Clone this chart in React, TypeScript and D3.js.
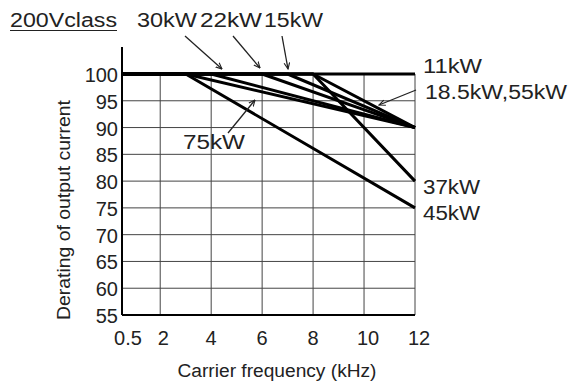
import React from "react";
import * as d3 from "d3";

// ---- data ----
const xTicks = [0.5, 2, 4, 6, 8, 10, 12];
const yTicks = [55, 60, 65, 70, 75, 80, 85, 90, 95, 100];
const xGrid = [2, 4, 6, 8, 10, 12];
const yGrid = [60, 65, 70, 75, 80, 85, 90, 95];

const s11kW: [number, number][] = [[0.5, 100], [12, 100]];
const s15kW: [number, number][] = [[0.5, 100], [7, 100], [12, 90]];
const s18_55kW: [number, number][] = [[0.5, 100], [8, 100], [12, 90]];
const s22kW: [number, number][] = [[0.5, 100], [6, 100], [12, 90]];
const s30kW: [number, number][] = [[0.5, 100], [4, 100], [12, 90]];
const s37kW: [number, number][] = [[0.5, 100], [8, 100], [12, 80]];
const s45kW: [number, number][] = [[0.5, 100], [3, 100], [12, 75]];
const s75kW: [number, number][] = [[0.5, 100], [3, 100], [12, 90]];
const seriesList = [s11kW, s15kW, s18_55kW, s22kW, s30kW, s37kW, s45kW, s75kW];

const FONT = "'Liberation Sans', Arial, sans-serif";

export default function App() {
  const W = 571, H = 386;
  const x = d3.scaleLinear().domain([0.5, 12]).range([122, 415]);
  const y = d3.scaleLinear().domain([55, 100]).range([315, 74]);
  const line = d3.line<[number, number]>().x(d => x(d[0])).y(d => y(d[1]));

  const arrows = [
    { x1: 185, y1: 36, x2: 222, y2: 69 },
    { x1: 233, y1: 36, x2: 260, y2: 68 },
    { x1: 282, y1: 36, x2: 288, y2: 69 },
    { x1: 416, y1: 90, x2: 379, y2: 105 },
    { x1: 228, y1: 133, x2: 255, y2: 100 },
  ];

  const labels = [
    { t: "30kW", x: 137, y: 27, w: 60 },
    { t: "22kW", x: 200, y: 27, w: 62 },
    { t: "15kW", x: 264, y: 27, w: 59 },
    { t: "11kW", x: 423, y: 73, w: 59 },
    { t: "18.5kW,55kW", x: 425, y: 99, w: 142 },
    { t: "37kW", x: 423, y: 194, w: 57 },
    { t: "45kW", x: 423, y: 220, w: 57 },
    { t: "75kW", x: 183, y: 149, w: 62 },
  ];

  return (
    <svg width={W} height={H} style={{ position: "absolute", left: 0, top: 0, background: "#fff" }}>
      <defs>
        <marker id="ah" viewBox="0 0 10 10" refX="9" refY="5" markerWidth="7" markerHeight="7" orient="auto" markerUnits="userSpaceOnUse">
          <path d="M0,1 L9,5 L0,9" fill="none" stroke="#222" strokeWidth="1.6" />
        </marker>
      </defs>
      {/* grid */}
      {xGrid.map(v => (
        <line key={"gx" + v} x1={x(v)} x2={x(v)} y1={y(100)} y2={y(55)} stroke="#444" strokeWidth={1} />
      ))}
      {yGrid.map(v => (
        <line key={"gy" + v} x1={x(0.5)} x2={x(12)} y1={y(v)} y2={y(v)} stroke="#444" strokeWidth={1} />
      ))}
      {/* axes */}
      <line x1={x(0.5)} x2={x(0.5)} y1={47} y2={y(55)} stroke="#000" strokeWidth={2} />
      <line x1={x(0.5)} x2={x(12)} y1={y(55)} y2={y(55)} stroke="#000" strokeWidth={2} />
      {/* series */}
      {seriesList.map((s, i) => (
        <path key={"s" + i} d={line(s) || ""} fill="none" stroke="#000" strokeWidth={3} strokeLinejoin="round" />
      ))}
      {/* tick labels */}
      {yTicks.map(v => (
        <text key={"yt" + v} x={118} y={y(v) + 8} textAnchor="end" fontFamily={FONT} fontSize={20} fill="#222">{v}</text>
      ))}
      {xTicks.map(v => (
        <text key={"xt" + v} x={x(v) + (v === 0.5 ? 6 : v >= 10 ? 4 : v === 2 ? 3 : 0)} y={345} textAnchor="middle" fontFamily={FONT} fontSize={20} fill="#222">{v}</text>
      ))}
      {/* axis titles */}
      <text x={277} y={377} textAnchor="middle" fontFamily={FONT} fontSize={18} fill="#222" textLength={199} lengthAdjust="spacingAndGlyphs">Carrier frequency (kHz)</text>
      <text transform={`translate(70,210) rotate(-90)`} textAnchor="middle" fontFamily={FONT} fontSize={18} fill="#222" textLength={220} lengthAdjust="spacingAndGlyphs">Derating of output current</text>
      {/* title */}
      <text x={10} y={27} fontFamily={FONT} fontSize={20} fill="#222" textLength={107} lengthAdjust="spacingAndGlyphs">200Vclass</text>
      <line x1={10} x2={117} y1={30.5} y2={30.5} stroke="#222" strokeWidth={1.2} />
      {/* annotations */}
      {labels.map(l => (
        <text key={l.t} x={l.x} y={l.y} fontFamily={FONT} fontSize={20} fill="#222" textLength={l.w} lengthAdjust="spacingAndGlyphs">{l.t}</text>
      ))}
      {arrows.map((a, i) => (
        <line key={"a" + i} x1={a.x1} y1={a.y1} x2={a.x2} y2={a.y2} stroke="#222" strokeWidth={1.3} markerEnd="url(#ah)" />
      ))}
    </svg>
  );
}
